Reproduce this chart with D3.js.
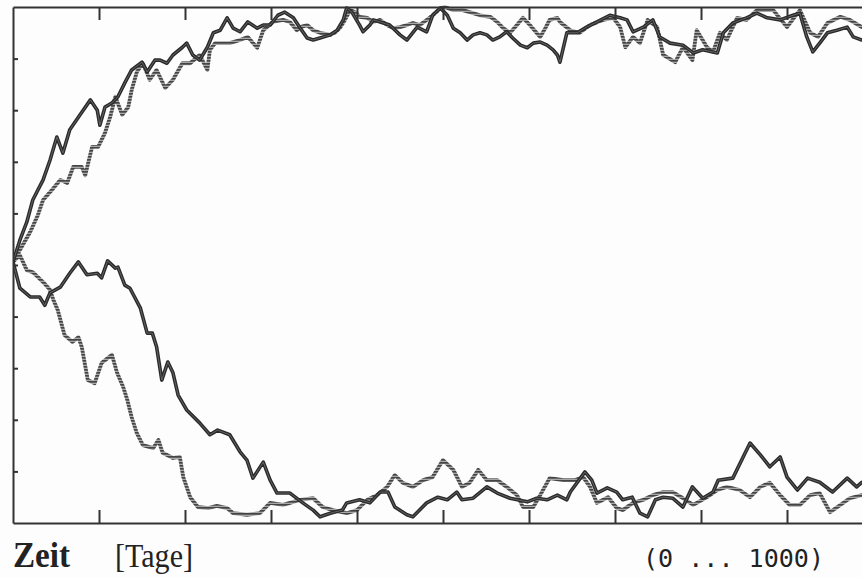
<!DOCTYPE html>
<html>
<head>
<meta charset="utf-8">
<script src="https://cdn.jsdelivr.net/npm/d3@7/dist/d3.min.js"></script>
<style>
  html, body { margin: 0; padding: 0; background: #fdfdfd; }
  svg { display: block; }
</style>
</head>
<body>
<svg id="chart" width="862" height="577"></svg>
<script>
// Time axis: days 0..1000, tick every 100 days
const dayTicks = [0, 100, 200, 300, 400, 500, 600, 700, 800, 900, 1000];
// Share axis: 0..100 %, tick every 10
const shareTicks = [0, 10, 20, 30, 40, 50, 60, 70, 80, 90, 100];

const axisLabel = "Zeit";
const unitLabel = "[Tage]";
const rangeLabel = "(0 ... 1000)";

// Four runs, each as [day, share %]
const darkRising = [
  [0,50.6],[8,54.8],[16,58.3],[23,62.6],[35,66.5],[43,70.3],[51,74.8],[58,71.7],[66,76.2],[78,79.1],
  [90,82.0],[98,80.0],[101,77.1],[107,80.6],[115,81.4],[122,82.6],[130,85.3],[138,87.8],[150,89.3],[156,87.4],
  [165,89.7],[171,89.7],[179,89.1],[186,90.7],[197,92.2],[202,93.0],[209,90.7],[217,89.7],[226,92.2],[233,95.0],
  [241,95.5],[249,97.9],[256,95.9],[264,95.2],[273,97.1],[284,95.9],[291,96.5],[299,96.5],[308,98.4],[316,99.0],
  [326,97.9],[334,95.9],[342,94.0],[349,93.6],[357,94.0],[369,94.6],[377,95.5],[384,97.5],[388,99.8],[394,99.0],
  [403,96.5],[407,95.2],[415,96.5],[419,97.5],[427,97.1],[438,96.5],[450,94.6],[458,93.6],[470,96.1],[481,95.2],
  [488,98.4],[497,99.8],[505,98.4],[512,95.9],[520,95.0],[528,93.6],[535,94.6],[543,95.0],[551,94.6],[558,93.6],
  [566,94.2],[574,95.2],[581,94.0],[590,92.6],[598,92.1],[605,93.0],[613,93.2],[621,92.6],[628,91.7],[633,90.7],
  [636,89.3],[644,95.0],[656,95.0],[667,96.1],[679,97.1],[694,98.4],[706,97.9],[714,97.5],[721,95.2],[733,96.1],
  [744,97.5],[752,94.2],[764,93.0],[779,92.6],[791,91.1],[802,91.7],[819,91.1],[826,95.0],[837,96.9],[853,97.9],
  [865,98.8],[877,97.9],[892,97.5],[907,98.4],[915,98.8],[923,94.2],[930,91.3],[938,93.0],[947,95.0],[958,95.5],
  [970,96.1],[977,94.2],[987,93.6],[1000,94.6]
];

const grayRising = [
  [0,50.6],[8,52.9],[20,56.4],[29,59.7],[35,62.6],[45,64.5],[55,66.5],[63,65.9],[70,69.0],[80,69.0],
  [84,67.4],[92,72.9],[99,72.9],[107,75.6],[113,78.7],[119,82.6],[127,79.1],[134,80.6],[138,83.9],[144,87.4],
  [151,89.1],[159,85.9],[167,87.8],[177,84.3],[186,85.9],[197,89.1],[206,89.1],[217,90.7],[226,87.8],[229,91.7],
  [235,93.0],[252,93.0],[264,93.6],[273,94.2],[284,92.1],[291,95.5],[302,97.1],[314,97.5],[322,97.1],[330,95.5],
  [334,96.1],[342,96.5],[349,95.5],[357,95.0],[369,94.6],[374,95.0],[380,95.9],[386,97.5],[392,99.4],[398,99.0],
  [403,98.1],[412,97.9],[419,97.1],[427,97.5],[435,96.5],[442,95.9],[450,96.1],[458,96.5],[465,96.9],[473,96.5],
  [481,97.5],[488,98.4],[497,99.8],[502,100],[512,99.4],[523,99.4],[531,99.0],[543,98.4],[555,98.1],[563,97.1],
  [570,95.9],[578,95.0],[586,96.5],[593,97.9],[601,96.5],[613,94.2],[619,95.9],[624,97.5],[633,97.9],[636,97.1],
  [648,95.5],[659,95.0],[671,96.5],[686,97.5],[698,97.9],[706,96.1],[712,92.2],[721,94.2],[729,93.0],[738,97.5],
  [749,96.1],[756,90.7],[770,89.3],[779,92.2],[790,89.7],[795,95.5],[807,92.2],[814,91.3],[822,95.0],[830,93.6],
  [842,97.9],[853,97.5],[865,99.4],[884,99.4],[900,96.1],[915,99.4],[927,95.0],[936,94.2],[947,96.9],[962,98.1],
  [973,97.5],[987,96.1],[1000,96.5]
];

const darkFalling = [
  [0,50.6],[8,45.5],[20,43.8],[31,43.8],[37,42.2],[43,44.6],[55,45.7],[66,48.4],[76,50.6],[86,48.1],
  [98,48.4],[103,47.5],[110,50.8],[119,49.4],[122,49.6],[130,46.1],[136,45.5],[148,41.7],[156,36.8],[162,36.8],
  [167,34.1],[173,27.7],[180,31.2],[186,29.1],[192,24.8],[202,21.9],[217,19.4],[229,17.1],[238,18.0],[252,17.1],
  [264,13.8],[272,12.2],[279,8.7],[291,11.8],[299,8.3],[307,5.8],[322,5.8],[337,3.9],[349,2.5],[357,1.2],
  [369,1.9],[383,2.5],[388,3.9],[403,4.5],[415,3.9],[427,6.0],[436,6.0],[444,3.1],[458,1.6],[465,1.2],
  [481,3.9],[494,5.0],[505,4.5],[516,6.0],[522,4.5],[535,4.8],[551,7.0],[563,5.8],[578,4.8],[598,4.1],
  [609,4.8],[621,4.5],[633,5.4],[644,4.5],[648,6.0],[665,9.9],[673,8.3],[679,5.8],[691,6.8],[702,6.0],
  [709,4.5],[720,5.0],[729,1.9],[738,1.2],[747,4.5],[756,5.0],[767,4.8],[779,3.1],[790,7.0],[802,4.8],
  [814,6.0],[820,8.3],[837,8.7],[857,15.5],[869,13.2],[880,10.9],[892,12.8],[900,8.9],[912,6.4],[924,8.7],
  [938,7.9],[953,6.0],[970,8.7],[981,7.0],[987,7.9],[1000,7.4]
];

const grayFalling = [
  [0,50.6],[8,51.9],[16,49.0],[23,48.6],[35,46.7],[43,45.2],[47,43.2],[52,41.3],[60,36.4],[69,35.1],
  [76,36.0],[80,34.1],[87,27.7],[95,27.1],[103,31.0],[115,32.6],[121,29.1],[128,26.4],[133,23.8],[138,20.5],
  [144,17.4],[151,15.1],[163,14.5],[169,16.1],[174,13.6],[186,12.6],[194,12.8],[198,8.9],[206,5.0],[215,3.1],
  [227,2.9],[237,3.3],[249,2.9],[256,1.9],[272,1.6],[287,1.9],[299,3.9],[314,3.5],[322,3.9],[334,4.5],
  [349,4.8],[360,3.1],[372,2.5],[388,1.9],[400,2.5],[412,4.5],[423,5.4],[435,7.0],[444,9.3],[453,7.8],
  [465,7.0],[477,8.3],[488,8.9],[500,12.2],[512,10.3],[522,7.0],[531,7.8],[541,10.3],[551,8.3],[563,8.3],
  [574,7.0],[586,5.4],[593,3.1],[605,3.1],[613,5.4],[624,8.7],[640,8.3],[653,8.3],[663,8.9],[671,7.0],
  [679,3.9],[692,5.0],[702,2.9],[709,2.5],[721,3.9],[733,4.5],[744,5.4],[756,6.0],[767,6.0],[779,4.8],
  [791,3.5],[807,5.0],[819,6.4],[830,7.0],[845,6.4],[857,5.0],[869,7.0],[880,7.8],[892,5.4],[903,3.5],
  [915,3.5],[927,5.4],[938,5.8],[950,2.1],[962,3.5],[973,4.8],[987,5.4],[1000,5.0]
];

const svg = d3.select("#chart");
const W = 862, H = 577;
const plot = { left: 13, top: 7, right: 873, bottom: 523 };

const x = d3.scaleLinear().domain([0, 1000]).range([plot.left, plot.right]);
const y = d3.scaleLinear().domain([0, 100]).range([plot.bottom, plot.top]);

svg.append("rect").attr("width", W).attr("height", H).attr("fill", "#fdfdfd");

// Horizontal hatch used for the gray runs (printed as stacked dashes)
const defs = svg.append("defs");
const hatch = defs.append("pattern")
  .attr("id", "hatch")
  .attr("patternUnits", "userSpaceOnUse")
  .attr("width", 6).attr("height", 3);
hatch.append("rect").attr("width", 6).attr("height", 3).attr("fill", "#a8a8a8");
hatch.append("rect").attr("width", 6).attr("height", 1.7).attr("fill", "#444");

const clip = defs.append("clipPath").attr("id", "plotClip");
clip.append("rect")
  .attr("x", plot.left).attr("y", plot.top - 2)
  .attr("width", plot.right - plot.left).attr("height", plot.bottom - plot.top + 4);

const line = d3.line().x(d => x(d[0])).y(d => y(d[1])).curve(d3.curveLinear);

const runs = svg.append("g").attr("clip-path", "url(#plotClip)");

function drawGray(data) {
  runs.append("path").datum(data)
    .attr("d", line)
    .attr("fill", "none")
    .attr("stroke", "url(#hatch)")
    .attr("stroke-width", 3.8)
    .attr("stroke-linejoin", "round");
}
function drawDark(data) {
  runs.append("path").datum(data)
    .attr("d", line)
    .attr("fill", "none")
    .attr("stroke", "#2a2a2a")
    .attr("stroke-width", 3.6)
    .attr("stroke-linejoin", "round");
  runs.append("path").datum(data)
    .attr("d", line)
    .attr("fill", "none")
    .attr("stroke", "#6a6a6a")
    .attr("stroke-width", 0.9)
    .attr("stroke-linejoin", "round");
}

drawGray(grayFalling);
drawGray(grayRising);
drawDark(darkFalling);
drawDark(darkRising);

// Frame with tick marks
const inner = dayTicks.filter(d => d > 0 && d < 1000);
const axisStyle = g => {
  g.selectAll("path.domain").attr("stroke", "#333").attr("stroke-width", 2);
  g.selectAll(".tick line").attr("stroke", "#333").attr("stroke-width", 2);
  g.selectAll(".tick text").remove();
};

svg.append("g")
  .attr("transform", `translate(0,${plot.bottom})`)
  .call(d3.axisBottom(x).tickValues(inner).tickSize(-13).tickSizeOuter(0).tickFormat(""))
  .call(axisStyle);

svg.append("g")
  .attr("transform", `translate(0,${plot.top})`)
  .call(d3.axisTop(x).tickValues(inner).tickSize(-13).tickSizeOuter(0).tickFormat(""))
  .call(axisStyle);

svg.append("g")
  .attr("transform", `translate(${plot.left},0)`)
  .call(d3.axisLeft(y).tickValues(shareTicks.filter(v => v > 0 && v < 100)).tickSize(-5).tickSizeOuter(0).tickFormat(""))
  .call(axisStyle);

// Labels under the frame
svg.append("text")
  .attr("x", 13).attr("y", 567)
  .attr("font-family", "'Liberation Serif', 'DejaVu Serif', serif")
  .attr("font-weight", "bold")
  .attr("font-size", 35)
  .attr("textLength", 57).attr("lengthAdjust", "spacingAndGlyphs")
  .attr("fill", "#222")
  .text(axisLabel);

svg.append("text")
  .attr("x", 115).attr("y", 567)
  .attr("font-family", "'Liberation Serif', 'DejaVu Serif', serif")
  .attr("font-size", 34)
  .attr("textLength", 78).attr("lengthAdjust", "spacingAndGlyphs")
  .attr("fill", "#222")
  .text(unitLabel);

svg.append("text")
  .attr("x", 643).attr("y", 567)
  .attr("font-family", "'DejaVu Sans Mono', 'Liberation Mono', monospace")
  .attr("font-size", 25)
  .attr("textLength", 181).attr("lengthAdjust", "spacingAndGlyphs")
  .attr("fill", "#222")
  .text(rangeLabel);
</script>
</body>
</html>
